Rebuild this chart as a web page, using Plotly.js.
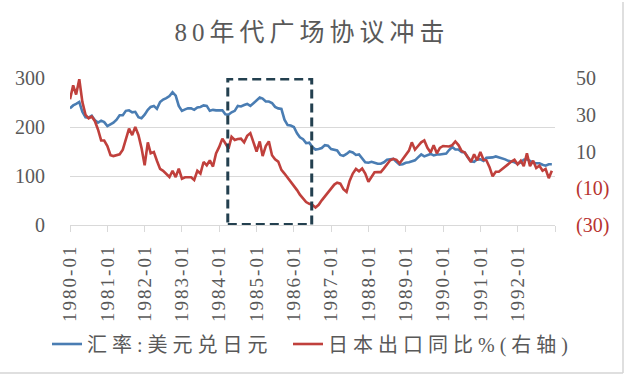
<!DOCTYPE html>
<html><head><meta charset="utf-8">
<script src="https://cdn.plot.ly/plotly-3.0.1.min.js"></script>
<style>
html,body{margin:0;padding:0;background:#fff;}
#chart{width:627px;height:380px;}
.gtitle{letter-spacing:5px;}
.legendtext{letter-spacing:5px;}
.legend .scrollbox, .legend g{clip-path:none !important;}
.xtick text{letter-spacing:2px;}
</style></head><body><div id="chart"></div>
<script>
// categories
const years = [1980,1981,1982,1983,1984,1985,1986,1987,1988,1989,1990,1991,1992];
const months = [];
years.forEach(y => { for (let m = 1; m <= 12; m++) months.push(y + '-' + String(m).padStart(2,'0') + '-01'); });
const tickVals = ['1980-01-01','1981-01-01','1982-01-01','1983-01-01','1984-01-01','1985-01-01','1986-01-01','1987-01-01','1988-01-01','1989-01-01','1990-01-01','1991-01-01','1992-01-01','1993-01-01'];
const tickText = ['1980-01','1981-01','1982-01','1983-01','1984-01','1985-01','1986-01','1987-01','1988-01','1989-01','1990-01','1991-01','1992-01',''];

// 汇率:美元兑日元 (left axis)
const usdJpy = [
 238,244,247,251,231,220,219,223,214,209,213,210,
 202,206,209,215,224,224,233,234,230,231,220,218,
 225,235,241,243,237,251,256,259,263,271,264,243,
 233,236,238,238,235,240,241,244,243,233,235,234,
 234,234,226,225,230,233,243,242,245,247,243,248,
 254,260,258,252,252,249,241,238,237,215,204,203,
 200,187,179,175,167,168,159,154,155,157,163,162,
 155,154,152,143,141,145,150,148,143,144,135,128,
 127,129,127,125,125,128,133,134,135,129,123,124,
 127,128,130,132,138,144,140,142,145,142,144,144,
 145,146,153,159,154,154,149,148,138,130,129,134,
 134,131,137,137,138,140,138,137,134,131,130,128,
 125,128,133,134,131,127,126,126,123,121,124,124
];
// 日本出口同比% (right axis)
const exportYoY = [
 38.4,46,41,49.3,37,30,28,29,26.5,22,16,16,
 13,8,7.5,8,8.5,11,17,22.5,18.9,23.4,19,12,
 2.5,15,9,9.7,5,0.5,-0.5,-2,-3.9,-0.5,-3.9,0.7,
 -4.8,-4,-3.9,-4,-5.5,-0.5,-2,4.3,2.5,5.2,1.8,9,
 12.5,17,14.5,11.6,18,16.3,16.8,17,15,18.5,20,15.5,
 10,15.5,7.5,13,15.5,8,5.8,4.5,0,-2,-4.2,-6.5,
 -8.5,-11,-13.5,-15.5,-17.5,-18.5,-19,-20.5,-19,-16.6,-14.5,-12,
 -10,-8,-7,-7.5,-10.5,-12,-6,-2,0.5,-0.8,0.7,-2,
 -6.5,-3.5,-1.3,-1.2,-1.2,0.8,3,5.2,6,5.5,3.5,6,
 8,10.5,15,11,13,15,16,12,9.5,13.4,9,12,
 13,13,12.7,13.5,15.5,13.5,10.3,9.5,7,4.3,8.5,5.2,
 9.7,5.5,5.2,1.5,-3.5,-1,-1,0.5,2,3.5,4.5,5.5,
 3,5,2,9,2,5,1,2.3,-0.5,0.5,-4.5,-0.5
];
const seriesNames = ['汇率:美元兑日元', '日本出口同比%(右轴)'];
const y1Ticks = [0,100,200,300];
const y2Ticks = [-30,-10,10,30,50];
const y2Text = ['<span style="color:#b8332f">(30)</span>','<span style="color:#b8332f">(10)</span>','10','30','50'];
// highlighted Plaza Accord window
const boxX = ['1984-03-25','1986-06-25'];
const boxY = [1, 298];

const serif = 'Liberation Serif, Noto Sans CJK SC, serif';
const grey = '#595959';

const traces = [
  {x: months, y: usdJpy, name: seriesNames[0], type: 'scatter', mode: 'lines',
   line: {color: '#4a7db3', width: 2.6}, yaxis: 'y'},
  {x: months, y: exportYoY, name: seriesNames[1], type: 'scatter', mode: 'lines',
   line: {color: '#c0403c', width: 2.6}, yaxis: 'y2'}
];

const layout = {
  width: 627, height: 380,
  margin: {l: 70, r: 72, t: 78, b: 155, pad: 0},
  paper_bgcolor: '#fff', plot_bgcolor: '#fff',
  showlegend: true,
  title: {text: '80年代广场协议冲击', font: {family: serif, size: 25, color: grey},
          x: 312/627, xanchor: 'center', xref: 'container', y: 1 - 32.5/380, yanchor: 'middle', yref: 'container'},
  xaxis: {type: 'date', range: ['1980-01-01','1993-01-01'], tickmode: 'array',
          tickvals: tickVals, ticktext: tickText, tickangle: -90,
          ticks: 'outside', ticklen: 6, tickcolor: '#d9d9d9', tickwidth: 1,
          showline: true, linecolor: '#d9d9d9', linewidth: 1, showgrid: false, zeroline: false,
          tickfont: {family: serif, size: 19, color: grey}, ticklabelstandoff: 5, automargin: false},
  yaxis: {range: [0, 300], tickmode: 'array', tickvals: y1Ticks, showgrid: true, gridcolor: '#d9d9d9', gridwidth: 1,
          zeroline: false, showline: false, ticks: '', tickfont: {family: serif, size: 20, color: grey},
          ticklabelstandoff: 24, automargin: false},
  yaxis2: {range: [-30, 50], overlaying: 'y', side: 'right', tickmode: 'array', tickvals: y2Ticks, ticktext: y2Text,
           showgrid: false, zeroline: false, showline: false, ticks: '',
           tickfont: {family: serif, size: 20, color: grey}, ticklabelstandoff: 20, automargin: false},
  legend: {orientation: 'h', xref: 'container', yref: 'container', x: 47/627, y: 36/380,
           xanchor: 'left', yanchor: 'middle', font: {family: serif, size: 20, color: grey},
           entrywidth: 196, entrywidthmode: 'pixels', bgcolor: 'rgba(0,0,0,0)', itemwidth: 30},
  shapes: [
    {type: 'rect', xref: 'x', yref: 'y', x0: boxX[0], x1: boxX[1], y0: boxY[0], y1: boxY[1],
     line: {color: '#23404f', width: 3, dash: '9px,5px'}, layer: 'above'},
    {type: 'line', xref: 'paper', yref: 'paper', x0: (623-70)/485, x1: (623-70)/485, y0: (225-2)/147, y1: (225-373)/147,
     line: {color: '#d4d4d4', width: 1.5}},
    {type: 'line', xref: 'paper', yref: 'paper', x0: -70/485, x1: (623-70)/485, y0: (225-373)/147, y1: (225-373)/147,
     line: {color: '#d4d4d4', width: 1.5}}
  ],
  hovermode: false
};

Plotly.newPlot('chart', traces, layout, {staticPlot: true, displayModeBar: false});
</script></body></html>
